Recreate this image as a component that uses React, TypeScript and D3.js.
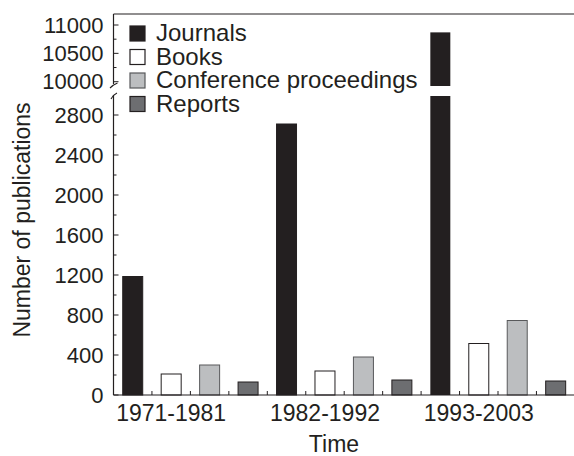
import React from "react";
import * as d3 from "d3";

const periods = ["1971-1981", "1982-1992", "1993-2003"];
const seriesNames = ["Journals", "Books", "Conference proceedings", "Reports"];
const journals = [1185, 2710, 10870];
const books = [210, 240, 515];
const conference = [300, 380, 745];
const reports = [130, 150, 140];
const lowTicks = [0, 400, 800, 1200, 1600, 2000, 2400, 2800];
const highTicks = [10000, 10500, 11000];
const fills = ["#231f20", "#ffffff", "#bcbec0", "#6d6e71"];

const W = 574;
const H = 456;
const FONT = "'Liberation Sans', Arial, Helvetica, sans-serif";
const INK = "#231f20";

export default function App() {
  const values = [journals, books, conference, reports];
  const slots: string[] = [];
  periods.forEach((p) => seriesNames.forEach((s) => slots.push(p + "|" + s)));

  const left = 113.5;
  const bottom = 395;
  const top = 14;
  const x = d3.scaleBand<string>().domain(slots).range([left, 574.9]).paddingInner(0.48).paddingOuter(0.24);
  const step = x.step();

  const yLow = d3.scaleLinear().domain([0, 2800]).range([bottom, 115]);
  const yHigh = d3.scaleLinear().domain([10000, 11000]).range([81.7, 25]);
  const lowTop = 96; // top pixel of lower segment
  const highBottom = 86; // bottom pixel of upper segment
  const lowMax = yLow.invert(lowTop);
  const highMin = yHigh.invert(highBottom);
  const highMax = yHigh.invert(top);

  const bars: any[] = [];
  periods.forEach((p, pi) => {
    seriesNames.forEach((s, si) => {
      const v = values[si][pi];
      const bx = x(p + "|" + s)!;
      const bw = x.bandwidth();
      const stroke = si === 2 ? "#58595b" : INK;
      if (v <= lowMax) {
        bars.push(
          <rect key={p + s} x={bx} y={yLow(v)} width={bw} height={bottom - yLow(v)} fill={fills[si]} stroke={stroke} strokeWidth={1} />
        );
      } else {
        bars.push(
          <rect key={p + s + "l"} x={bx} y={lowTop} width={bw} height={bottom - lowTop} fill={fills[si]} stroke="none" />
        );
        if (v >= highMin) {
          bars.push(
            <rect key={p + s + "h"} x={bx} y={yHigh(Math.min(v, highMax))} width={bw} height={highBottom - yHigh(Math.min(v, highMax))} fill={fills[si]} stroke="none" />
          );
        }
      }
    });
  });

  const lowMinor = d3.range(200, 3000, 400).filter((v) => v <= lowMax);
  const highMinor = d3.range(10250, 11200, 500).filter((v) => v <= highMax);

  const xTicks = d3.range(0, slots.length).map((i) => (x(slots[i]) as number) - x.paddingOuter() * step);

  return (
    <svg width={W} height={H} style={{ position: "absolute", left: 0, top: 0, background: "#fff" }} fontFamily={FONT}>
      <rect x={0} y={0} width={W} height={H} fill="#fff" />
      {bars}
      {/* frame */}
      <line x1={left} x2={W} y1={top} y2={top} stroke={INK} strokeWidth={1.2} />
      <line x1={left} x2={W} y1={bottom} y2={bottom} stroke={INK} strokeWidth={1.2} />
      <line x1={left} x2={left} y1={top} y2={84} stroke={INK} strokeWidth={1.2} />
      <line x1={left} x2={left} y1={95} y2={bottom} stroke={INK} strokeWidth={1.2} />
      {/* break marks */}
      <path d={`M${left - 3.5},88 Q${left},84.5 ${left + 4},83`} fill="none" stroke={INK} strokeWidth={1.1} />
      <path d={`M${left - 2.5},99 Q${left},94.5 ${left + 3.5},93`} fill="none" stroke={INK} strokeWidth={1.1} />
      {/* y ticks */}
      {lowTicks.map((t) => (
        <g key={"lt" + t}>
          <line x1={left} x2={left + 5} y1={yLow(t)} y2={yLow(t)} stroke={INK} strokeWidth={1} />
          <text x={103.5} y={yLow(t)} textAnchor="end" dominantBaseline="central" fontSize={22} fill={INK}>
            {t}
          </text>
        </g>
      ))}
      {lowMinor.map((t) => (
        <line key={"lm" + t} x1={left} x2={left + 3} y1={yLow(t)} y2={yLow(t)} stroke={INK} strokeWidth={1} />
      ))}
      {highTicks.map((t) => (
        <g key={"ht" + t}>
          <line x1={left} x2={left + 5} y1={yHigh(t)} y2={yHigh(t)} stroke={INK} strokeWidth={1} />
          <text x={103.5} y={yHigh(t)} textAnchor="end" dominantBaseline="central" fontSize={22} fill={INK}>
            {t}
          </text>
        </g>
      ))}
      {highMinor.map((t) => (
        <line key={"hm" + t} x1={left} x2={left + 3} y1={yHigh(t)} y2={yHigh(t)} stroke={INK} strokeWidth={1} />
      ))}
      {/* x ticks */}
      {xTicks.map((tx, i) => (
        <line key={"xt" + i} x1={tx} x2={tx} y1={bottom} y2={bottom - 4} stroke={INK} strokeWidth={1} />
      ))}
      {periods.map((p) => (
        <text key={p} x={(x(p + "|" + seriesNames[1]) as number) + x.bandwidth() / 2} y={421} textAnchor="middle" fontSize={23} fill={INK}>
          {p}
        </text>
      ))}
      <text x={334} y={452} textAnchor="middle" fontSize={23} fill={INK}>
        Time
      </text>
      <text transform={`translate(30,220) rotate(-90)`} textAnchor="middle" fontSize={23} fill={INK}>
        Number of publications
      </text>
      {/* legend */}
      {seriesNames.map((s, i) => (
        <g key={"lg" + s} transform={`translate(130,${26 + i * 23.5})`}>
          <rect x={0} y={0} width={15} height={15} fill={fills[i]} stroke={i === 2 ? "#58595b" : INK} strokeWidth={1.2} />
          <text x={26} y={15} fontSize={24} fill={INK}>
            {s}
          </text>
        </g>
      ))}
    </svg>
  );
}
